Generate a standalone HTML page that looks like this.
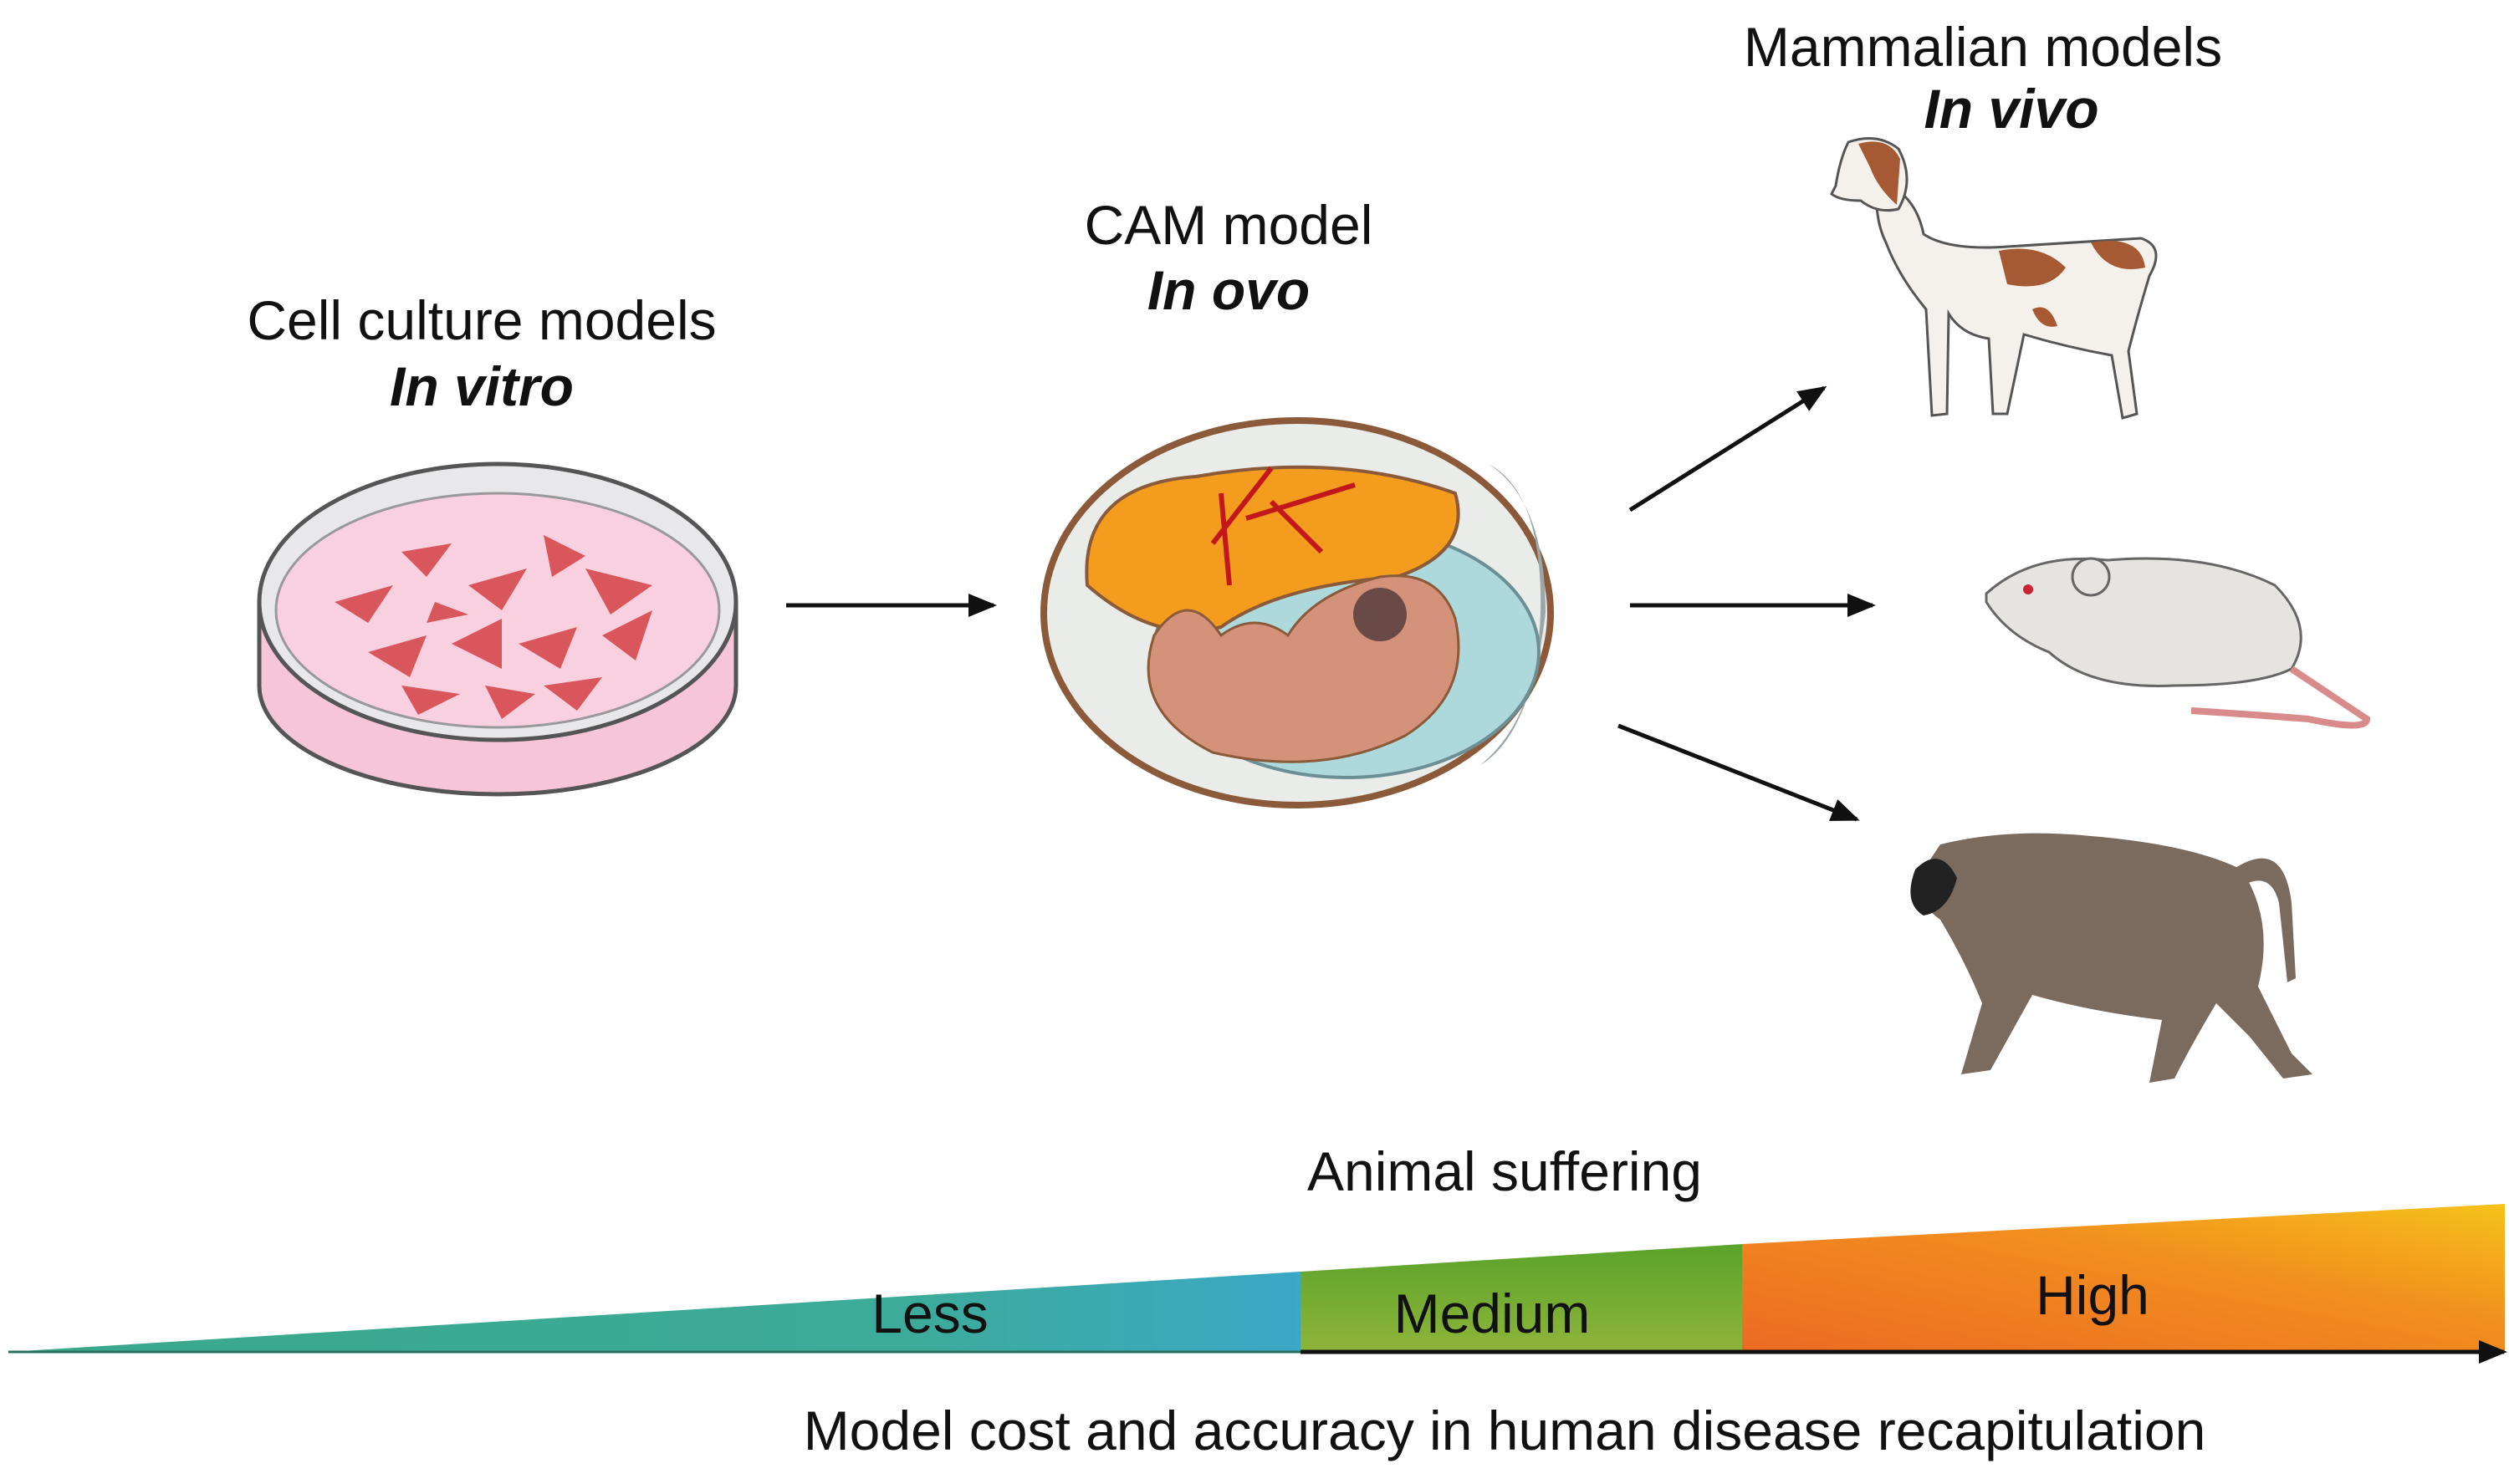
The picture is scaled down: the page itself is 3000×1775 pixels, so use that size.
<!DOCTYPE html>
<html><head><meta charset="utf-8"><style>html,body{margin:0;padding:0;background:#fff}svg{display:block}text{font-family:"Liberation Sans",sans-serif;fill:#111}</style></head><body>
<svg width="3000" height="1775" viewBox="0 0 3000 1775" xmlns="http://www.w3.org/2000/svg">
<defs>
<linearGradient id="teal" x1="0" x2="1" y1="0" y2="0"><stop offset="0" stop-color="#3aa88a"/><stop offset="0.7" stop-color="#3cab9a"/><stop offset="1" stop-color="#3aa8c6"/></linearGradient>
<linearGradient id="green" x1="0" x2="0" y1="0" y2="1"><stop offset="0" stop-color="#5aa32a"/><stop offset="1" stop-color="#8fb43a"/></linearGradient>
<linearGradient id="orange" x1="0" x2="1" y1="1" y2="0"><stop offset="0" stop-color="#ec6a24"/><stop offset="0.6" stop-color="#f28f1e"/><stop offset="1" stop-color="#f5c21a"/></linearGradient>
<marker id="ah" markerWidth="34" markerHeight="28" refX="30" refY="14" orient="auto" markerUnits="userSpaceOnUse" viewBox="0 0 34 28"><path d="M0,0 L34,14 L0,28 z" fill="#111"/></marker>
</defs>
<text x="576" y="406" font-size="66" text-anchor="middle">Cell culture models</text>
<text x="576" y="485" font-size="66" text-anchor="middle" font-weight="bold" font-style="italic">In vitro</text>
<text x="1469" y="292" font-size="66" text-anchor="middle">CAM model</text>
<text x="1469" y="370" font-size="66" text-anchor="middle" font-weight="bold" font-style="italic">In ovo</text>
<text x="2371" y="79" font-size="66" text-anchor="middle">Mammalian models</text>
<text x="2405" y="153" font-size="66" text-anchor="middle" font-weight="bold" font-style="italic">In vivo</text>
<!-- petri dish -->
<g stroke="#555" stroke-width="5">
<path d="M310,720 L310,820 A285,130 0 0 0 880,820 L880,720" fill="#f6c6d8"/>
<ellipse cx="595" cy="720" rx="285" ry="165" fill="#e8e8ea"/>
<ellipse cx="595" cy="730" rx="265" ry="140" fill="#f8d0df" stroke="#999" stroke-width="3"/>
</g>
<g fill="#d9575c">
<polygon points="400,720 470,700 440,745"/><polygon points="480,660 540,650 510,690"/><polygon points="560,700 630,680 600,730"/><polygon points="650,640 700,665 660,690"/><polygon points="700,680 780,700 730,735"/><polygon points="440,780 510,760 490,810"/><polygon points="540,770 600,740 600,800"/><polygon points="620,770 690,750 670,800"/><polygon points="720,760 780,730 760,790"/><polygon points="480,820 550,830 500,855"/><polygon points="580,820 640,830 600,860"/><polygon points="650,820 720,810 690,850"/><polygon points="520,720 560,735 510,745"/>
</g>
<!-- egg -->
<ellipse cx="1551" cy="733" rx="303" ry="230" fill="#e9ece8" stroke="#8a5a3a" stroke-width="8"/>
<path d="M1780,555 Q1845,590 1842,733 Q1838,860 1770,915 Q1830,880 1848,733 Q1848,600 1780,555z" fill="#9aa6a8"/>
<ellipse cx="1610" cy="780" rx="230" ry="150" fill="#aed9dc" stroke="#6c8f96" stroke-width="4"/>
<path d="M1300,700 Q1290,580 1430,570 Q1600,540 1740,590 Q1760,660 1670,690 Q1530,700 1460,750 Q1380,770 1300,700z" fill="#f39c1e" stroke="#8a5a3a" stroke-width="4"/>
<path d="M1450,650 L1520,560 M1490,620 L1620,580 M1520,600 L1580,660 M1470,700 L1460,590" stroke="#c2181c" stroke-width="6" fill="none"/>
<path d="M1380,760 Q1350,850 1450,900 Q1580,930 1680,880 Q1760,830 1740,740 Q1720,680 1650,690 Q1570,710 1540,760 Q1500,730 1460,760 Q1420,700 1380,760z" fill="#d4927a" stroke="#8a5a3a" stroke-width="3"/>
<circle cx="1650" cy="735" r="32" fill="#6a4a46"/>
<!-- arrows -->
<g stroke="#111" stroke-width="5" marker-end="url(#ah)">
<line x1="940" y1="724" x2="1188" y2="724"/>
<line x1="1949" y1="610" x2="2181" y2="464"/>
<line x1="1949" y1="724" x2="2239" y2="724"/>
<line x1="1935" y1="868" x2="2220" y2="980"/>
</g>
<!-- dog -->
<g fill="#f4f1ec" stroke="#555" stroke-width="3">
<path d="M2245,215 Q2290,230 2300,280 Q2330,300 2400,295 Q2480,290 2560,285 Q2590,295 2570,330 Q2555,380 2545,420 L2555,495 L2538,500 L2525,425 Q2470,415 2420,400 L2400,495 L2383,495 L2378,405 Q2345,400 2330,375 L2328,495 L2310,497 L2303,370 Q2270,330 2255,290 Q2240,260 2245,215z"/>
<path d="M2210,170 Q2245,158 2270,178 Q2290,215 2270,250 Q2245,256 2225,240 Q2200,240 2190,232 L2195,222 Q2200,190 2210,170z"/>
</g>
<path d="M2222,172 Q2258,162 2272,190 L2268,245 Q2245,225 2236,200z" fill="#a65a34"/>
<path d="M2390,300 Q2440,290 2470,320 Q2450,350 2400,340z M2500,290 Q2560,280 2565,320 Q2520,330 2500,290z M2430,370 Q2450,360 2460,390 Q2440,395 2430,370z" fill="#a65a34"/>
<!-- rat -->
<g fill="#e6e4e0" stroke="#666" stroke-width="3">
<path d="M2375,710 Q2430,660 2520,670 Q2640,660 2720,700 Q2770,750 2740,800 Q2700,820 2600,820 Q2500,825 2450,780 Q2400,760 2375,720z"/>
<circle cx="2500" cy="690" r="22"/>
</g>
<path d="M2740,800 Q2800,840 2830,860 Q2830,875 2760,860 Q2700,855 2620,850" fill="none" stroke="#d98b8b" stroke-width="8"/>
<circle cx="2425" cy="705" r="6" fill="#c23"/>
<!-- monkey -->
<g fill="#7b6b5e">
<path d="M2320,1010 Q2400,990 2500,1000 Q2620,1010 2680,1040 Q2720,1100 2700,1180 L2740,1260 L2765,1285 L2730,1290 L2690,1240 L2650,1200 Q2620,1250 2600,1290 L2570,1295 L2585,1220 Q2500,1210 2430,1190 L2380,1280 L2345,1285 L2370,1200 Q2350,1150 2320,1100 Q2290,1080 2300,1040z"/>
<path d="M2670,1040 Q2730,1000 2740,1080 L2745,1170 L2735,1175 L2725,1080 Q2715,1040 2680,1060z"/>
</g>
<path d="M2290,1040 Q2320,1010 2340,1050 Q2330,1090 2300,1095 Q2275,1080 2290,1040z" fill="#222"/>
<!-- bar -->
<polygon points="10,1617 1555,1521 1555,1617" fill="url(#teal)"/>
<polygon points="1555,1521 2083,1488 2083,1617 1555,1617" fill="url(#green)"/>
<polygon points="2083,1488 2995,1440 2995,1617 2083,1617" fill="url(#orange)"/>
<line x1="1555" y1="1617" x2="2994" y2="1617" stroke="#111" stroke-width="5" marker-end="url(#ah)"/>
<line x1="10" y1="1617" x2="1555" y2="1617" stroke="#2a6f5e" stroke-width="3"/>
<text x="1799" y="1424" font-size="66" text-anchor="middle">Animal suffering</text>
<text x="1112" y="1594" font-size="66" text-anchor="middle">Less</text>
<text x="1784" y="1594" font-size="66" text-anchor="middle">Medium</text>
<text x="2502" y="1572" font-size="66" text-anchor="middle">High</text>
<text x="1799" y="1734" font-size="66" text-anchor="middle">Model cost and accuracy in human disease recapitulation</text>
</svg>
</body></html>
